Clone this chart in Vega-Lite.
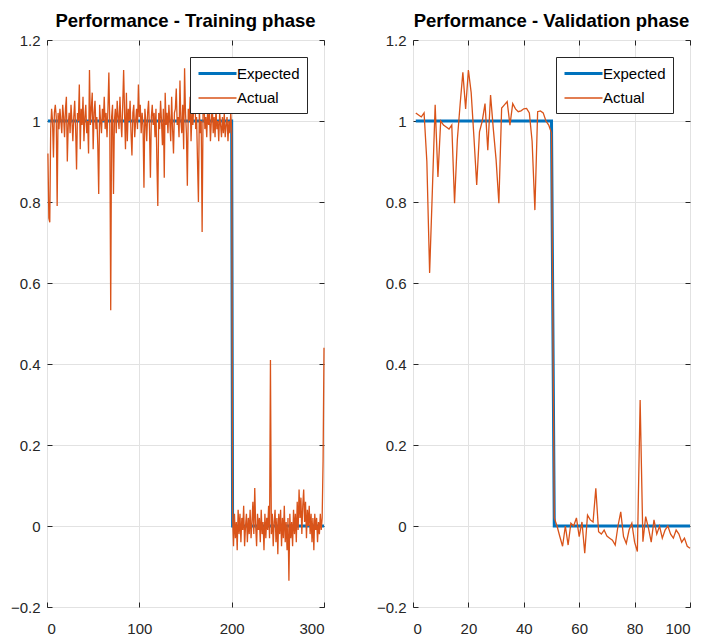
{
  "$schema": "https://vega.github.io/schema/vega-lite/v6.json",
  "background": "white",
  "padding": {"left": 9, "top": 11, "right": 0, "bottom": 0},
  "config": {
    "font": "Liberation Sans",
    "view": {"stroke": "#262626", "strokeWidth": 1},
    "axis": {"gridColor": "#e2e2e2", "gridWidth": 1, "domain": false, "tickColor": "#262626", "tickSize": -5, "labelColor": "#262626", "labelFontSize": 15, "labelFont": "Liberation Sans", "title": null},
    "axisY": {"labelPadding": 12},
    "axisX": {"labelPadding": 19},
    "legend": {"orient": "top-right", "offset": 17, "fillColor": "white", "strokeColor": "#262626", "padding": 7, "symbolSize": 256, "labelFontSize": 15, "labelColor": "#000000", "labelOffset": 21, "rowPadding": 7, "labelFont": "Liberation Sans"},
    "title": {"fontSize": 18.5, "fontWeight": "bold", "color": "#000000", "anchor": "middle", "offset": 3, "font": "Liberation Sans"}
  },
  "datasets": {
    "train": [
      {"x":1,"s":"Expected","y":1},{"x":200,"s":"Expected","y":1},{"x":201,"s":"Expected","y":0},{"x":300,"s":"Expected","y":0},
      {"x":1,"s":"Actual","y":0.92},{"x":2,"s":"Actual","y":0.76},{"x":3,"s":"Actual","y":0.75},{"x":4,"s":"Actual","y":0.98},{"x":5,"s":"Actual","y":1.03},{"x":6,"s":"Actual","y":1.0},{"x":7,"s":"Actual","y":0.91},{"x":8,"s":"Actual","y":1.02},{"x":9,"s":"Actual","y":1.04},{"x":10,"s":"Actual","y":1.01},
      {"x":11,"s":"Actual","y":0.79},{"x":12,"s":"Actual","y":1.02},{"x":13,"s":"Actual","y":0.98},{"x":14,"s":"Actual","y":1.03},{"x":15,"s":"Actual","y":1.0},{"x":16,"s":"Actual","y":0.97},{"x":17,"s":"Actual","y":1.04},{"x":18,"s":"Actual","y":1.01},{"x":19,"s":"Actual","y":0.96},{"x":20,"s":"Actual","y":1.03},
      {"x":21,"s":"Actual","y":1.06},{"x":22,"s":"Actual","y":0.9},{"x":23,"s":"Actual","y":0.99},{"x":24,"s":"Actual","y":1.02},{"x":25,"s":"Actual","y":0.97},{"x":26,"s":"Actual","y":1.04},{"x":27,"s":"Actual","y":1.0},{"x":28,"s":"Actual","y":0.95},{"x":29,"s":"Actual","y":1.01},{"x":30,"s":"Actual","y":1.05},
      {"x":31,"s":"Actual","y":0.98},{"x":32,"s":"Actual","y":0.88},{"x":33,"s":"Actual","y":1.02},{"x":34,"s":"Actual","y":1.0},{"x":35,"s":"Actual","y":1.09},{"x":36,"s":"Actual","y":0.93},{"x":37,"s":"Actual","y":1.03},{"x":38,"s":"Actual","y":0.99},{"x":39,"s":"Actual","y":1.06},{"x":40,"s":"Actual","y":0.95},
      {"x":41,"s":"Actual","y":1.01},{"x":42,"s":"Actual","y":1.04},{"x":43,"s":"Actual","y":0.97},{"x":44,"s":"Actual","y":1.0},{"x":45,"s":"Actual","y":0.92},{"x":46,"s":"Actual","y":1.126},{"x":47,"s":"Actual","y":0.99},{"x":48,"s":"Actual","y":1.03},{"x":49,"s":"Actual","y":1.07},{"x":50,"s":"Actual","y":0.93},
      {"x":51,"s":"Actual","y":1.02},{"x":52,"s":"Actual","y":1.05},{"x":53,"s":"Actual","y":0.98},{"x":54,"s":"Actual","y":1.01},{"x":55,"s":"Actual","y":0.94},{"x":56,"s":"Actual","y":0.82},{"x":57,"s":"Actual","y":1.04},{"x":58,"s":"Actual","y":1.0},{"x":59,"s":"Actual","y":0.97},{"x":60,"s":"Actual","y":1.03},
      {"x":61,"s":"Actual","y":1.0},{"x":62,"s":"Actual","y":1.06},{"x":63,"s":"Actual","y":0.98},{"x":64,"s":"Actual","y":1.02},{"x":65,"s":"Actual","y":0.96},{"x":66,"s":"Actual","y":1.03},{"x":67,"s":"Actual","y":1.12},{"x":68,"s":"Actual","y":0.99},{"x":69,"s":"Actual","y":0.533},{"x":70,"s":"Actual","y":1.01},
      {"x":71,"s":"Actual","y":1.04},{"x":72,"s":"Actual","y":0.82},{"x":73,"s":"Actual","y":1.0},{"x":74,"s":"Actual","y":1.03},{"x":75,"s":"Actual","y":0.97},{"x":76,"s":"Actual","y":1.05},{"x":77,"s":"Actual","y":1.01},{"x":78,"s":"Actual","y":0.98},{"x":79,"s":"Actual","y":1.06},{"x":80,"s":"Actual","y":1.0},
      {"x":81,"s":"Actual","y":0.96},{"x":82,"s":"Actual","y":1.04},{"x":83,"s":"Actual","y":1.126},{"x":84,"s":"Actual","y":1.02},{"x":85,"s":"Actual","y":0.93},{"x":86,"s":"Actual","y":1.07},{"x":87,"s":"Actual","y":0.95},{"x":88,"s":"Actual","y":1.03},{"x":89,"s":"Actual","y":1.0},{"x":90,"s":"Actual","y":1.05},
      {"x":91,"s":"Actual","y":0.97},{"x":92,"s":"Actual","y":0.915},{"x":93,"s":"Actual","y":1.02},{"x":94,"s":"Actual","y":1.04},{"x":95,"s":"Actual","y":0.96},{"x":96,"s":"Actual","y":1.0},{"x":97,"s":"Actual","y":1.03},{"x":98,"s":"Actual","y":0.98},{"x":99,"s":"Actual","y":1.09},{"x":100,"s":"Actual","y":1.01},
      {"x":101,"s":"Actual","y":1.04},{"x":102,"s":"Actual","y":0.97},{"x":103,"s":"Actual","y":1.02},{"x":104,"s":"Actual","y":0.99},{"x":105,"s":"Actual","y":0.835},{"x":106,"s":"Actual","y":1.03},{"x":107,"s":"Actual","y":1.0},{"x":108,"s":"Actual","y":0.95},{"x":109,"s":"Actual","y":1.02},{"x":110,"s":"Actual","y":1.05},
      {"x":111,"s":"Actual","y":0.98},{"x":112,"s":"Actual","y":0.86},{"x":113,"s":"Actual","y":1.01},{"x":114,"s":"Actual","y":1.04},{"x":115,"s":"Actual","y":0.99},{"x":116,"s":"Actual","y":1.02},{"x":117,"s":"Actual","y":0.96},{"x":118,"s":"Actual","y":1.03},{"x":119,"s":"Actual","y":0.9},{"x":120,"s":"Actual","y":0.79},
      {"x":121,"s":"Actual","y":1.02},{"x":122,"s":"Actual","y":0.98},{"x":123,"s":"Actual","y":1.05},{"x":124,"s":"Actual","y":1.0},{"x":125,"s":"Actual","y":0.94},{"x":126,"s":"Actual","y":1.03},{"x":127,"s":"Actual","y":0.86},{"x":128,"s":"Actual","y":1.07},{"x":129,"s":"Actual","y":0.99},{"x":130,"s":"Actual","y":1.02},
      {"x":131,"s":"Actual","y":0.97},{"x":132,"s":"Actual","y":1.04},{"x":133,"s":"Actual","y":1.0},{"x":134,"s":"Actual","y":0.95},{"x":135,"s":"Actual","y":1.06},{"x":136,"s":"Actual","y":0.98},{"x":137,"s":"Actual","y":0.92},{"x":138,"s":"Actual","y":1.02},{"x":139,"s":"Actual","y":1.03},{"x":140,"s":"Actual","y":1.08},
      {"x":141,"s":"Actual","y":0.99},{"x":142,"s":"Actual","y":1.01},{"x":143,"s":"Actual","y":0.96},{"x":144,"s":"Actual","y":1.1},{"x":145,"s":"Actual","y":1.0},{"x":146,"s":"Actual","y":0.97},{"x":147,"s":"Actual","y":1.04},{"x":148,"s":"Actual","y":0.93},{"x":149,"s":"Actual","y":1.13},{"x":150,"s":"Actual","y":1.02},
      {"x":151,"s":"Actual","y":0.97},{"x":152,"s":"Actual","y":0.84},{"x":153,"s":"Actual","y":1.03},{"x":154,"s":"Actual","y":1.0},{"x":155,"s":"Actual","y":1.06},{"x":156,"s":"Actual","y":0.95},{"x":157,"s":"Actual","y":1.02},{"x":158,"s":"Actual","y":0.99},{"x":159,"s":"Actual","y":1.04},{"x":160,"s":"Actual","y":1.105},
      {"x":161,"s":"Actual","y":0.98},{"x":162,"s":"Actual","y":1.01},{"x":163,"s":"Actual","y":0.9},{"x":164,"s":"Actual","y":0.8},{"x":165,"s":"Actual","y":1.03},{"x":166,"s":"Actual","y":0.97},{"x":167,"s":"Actual","y":1.0},{"x":168,"s":"Actual","y":0.726},{"x":169,"s":"Actual","y":1.02},{"x":170,"s":"Actual","y":1.05},
      {"x":171,"s":"Actual","y":0.98},{"x":172,"s":"Actual","y":1.01},{"x":173,"s":"Actual","y":0.96},{"x":174,"s":"Actual","y":1.03},{"x":175,"s":"Actual","y":0.99},{"x":176,"s":"Actual","y":1.02},{"x":177,"s":"Actual","y":0.95},{"x":178,"s":"Actual","y":1.0},{"x":179,"s":"Actual","y":1.04},{"x":180,"s":"Actual","y":0.97},
      {"x":181,"s":"Actual","y":1.01},{"x":182,"s":"Actual","y":0.96},{"x":183,"s":"Actual","y":1.03},{"x":184,"s":"Actual","y":0.98},{"x":185,"s":"Actual","y":1.0},{"x":186,"s":"Actual","y":0.95},{"x":187,"s":"Actual","y":1.02},{"x":188,"s":"Actual","y":0.99},{"x":189,"s":"Actual","y":0.96},{"x":190,"s":"Actual","y":1.01},
      {"x":191,"s":"Actual","y":0.97},{"x":192,"s":"Actual","y":1.02},{"x":193,"s":"Actual","y":0.96},{"x":194,"s":"Actual","y":0.99},{"x":195,"s":"Actual","y":1.01},{"x":196,"s":"Actual","y":0.95},{"x":197,"s":"Actual","y":1.0},{"x":198,"s":"Actual","y":0.97},{"x":199,"s":"Actual","y":1.02},{"x":200,"s":"Actual","y":0.98},
      {"x":201,"s":"Actual","y":0.02},{"x":202,"s":"Actual","y":-0.05},{"x":203,"s":"Actual","y":0.03},{"x":204,"s":"Actual","y":-0.03},{"x":205,"s":"Actual","y":0.01},{"x":206,"s":"Actual","y":-0.06},{"x":207,"s":"Actual","y":0.04},{"x":208,"s":"Actual","y":-0.02},{"x":209,"s":"Actual","y":0.03},{"x":210,"s":"Actual","y":-0.04},
      {"x":211,"s":"Actual","y":0.02},{"x":212,"s":"Actual","y":-0.01},{"x":213,"s":"Actual","y":0.05},{"x":214,"s":"Actual","y":-0.05},{"x":215,"s":"Actual","y":0.0},{"x":216,"s":"Actual","y":0.03},{"x":217,"s":"Actual","y":-0.04},{"x":218,"s":"Actual","y":0.02},{"x":219,"s":"Actual","y":-0.02},{"x":220,"s":"Actual","y":0.04},
      {"x":221,"s":"Actual","y":-0.03},{"x":222,"s":"Actual","y":0.01},{"x":223,"s":"Actual","y":0.06},{"x":224,"s":"Actual","y":-0.02},{"x":225,"s":"Actual","y":0.094},{"x":226,"s":"Actual","y":0.0},{"x":227,"s":"Actual","y":-0.05},{"x":228,"s":"Actual","y":0.03},{"x":229,"s":"Actual","y":-0.01},{"x":230,"s":"Actual","y":0.02},
      {"x":231,"s":"Actual","y":-0.04},{"x":232,"s":"Actual","y":0.04},{"x":233,"s":"Actual","y":-0.02},{"x":234,"s":"Actual","y":0.01},{"x":235,"s":"Actual","y":-0.06},{"x":236,"s":"Actual","y":0.03},{"x":237,"s":"Actual","y":-0.03},{"x":238,"s":"Actual","y":0.02},{"x":239,"s":"Actual","y":-0.01},{"x":240,"s":"Actual","y":0.05},
      {"x":241,"s":"Actual","y":-0.03},{"x":242,"s":"Actual","y":0.41},{"x":243,"s":"Actual","y":-0.02},{"x":244,"s":"Actual","y":0.03},{"x":245,"s":"Actual","y":-0.05},{"x":246,"s":"Actual","y":0.01},{"x":247,"s":"Actual","y":0.04},{"x":248,"s":"Actual","y":-0.04},{"x":249,"s":"Actual","y":0.02},{"x":250,"s":"Actual","y":-0.07},
      {"x":251,"s":"Actual","y":0.03},{"x":252,"s":"Actual","y":-0.02},{"x":253,"s":"Actual","y":0.04},{"x":254,"s":"Actual","y":-0.05},{"x":255,"s":"Actual","y":0.02},{"x":256,"s":"Actual","y":-0.03},{"x":257,"s":"Actual","y":0.05},{"x":258,"s":"Actual","y":-0.04},{"x":259,"s":"Actual","y":0.01},{"x":260,"s":"Actual","y":-0.06},
      {"x":261,"s":"Actual","y":0.02},{"x":262,"s":"Actual","y":-0.135},{"x":263,"s":"Actual","y":0.03},{"x":264,"s":"Actual","y":-0.03},{"x":265,"s":"Actual","y":0.01},{"x":266,"s":"Actual","y":-0.05},{"x":267,"s":"Actual","y":0.04},{"x":268,"s":"Actual","y":-0.02},{"x":269,"s":"Actual","y":0.03},{"x":270,"s":"Actual","y":-0.04},
      {"x":271,"s":"Actual","y":0.06},{"x":272,"s":"Actual","y":-0.01},{"x":273,"s":"Actual","y":0.09},{"x":274,"s":"Actual","y":0.02},{"x":275,"s":"Actual","y":0.07},{"x":276,"s":"Actual","y":-0.02},{"x":277,"s":"Actual","y":0.05},{"x":278,"s":"Actual","y":0.09},{"x":279,"s":"Actual","y":0.01},{"x":280,"s":"Actual","y":0.06},
      {"x":281,"s":"Actual","y":-0.03},{"x":282,"s":"Actual","y":0.04},{"x":283,"s":"Actual","y":0.0},{"x":284,"s":"Actual","y":0.05},{"x":285,"s":"Actual","y":-0.02},{"x":286,"s":"Actual","y":0.03},{"x":287,"s":"Actual","y":-0.04},{"x":288,"s":"Actual","y":0.02},{"x":289,"s":"Actual","y":-0.06},{"x":290,"s":"Actual","y":0.03},
      {"x":291,"s":"Actual","y":-0.01},{"x":292,"s":"Actual","y":0.02},{"x":293,"s":"Actual","y":-0.04},{"x":294,"s":"Actual","y":0.01},{"x":295,"s":"Actual","y":-0.02},{"x":296,"s":"Actual","y":0.03},{"x":297,"s":"Actual","y":-0.01},{"x":298,"s":"Actual","y":0.02},{"x":299,"s":"Actual","y":0.16},{"x":300,"s":"Actual","y":0.44}
    ],
    "valid": [
      {"x":1,"s":"Expected","y":1},{"x":50,"s":"Expected","y":1},{"x":51,"s":"Expected","y":0},{"x":100,"s":"Expected","y":0},
      {"x":1,"s":"Actual","y":1.02},{"x":2,"s":"Actual","y":1.015},{"x":3,"s":"Actual","y":1.01},{"x":4,"s":"Actual","y":1.02},{"x":5,"s":"Actual","y":0.9},{"x":6,"s":"Actual","y":0.625},{"x":7,"s":"Actual","y":0.83},{"x":8,"s":"Actual","y":1.04},{"x":9,"s":"Actual","y":0.862},{"x":10,"s":"Actual","y":1.0},
      {"x":11,"s":"Actual","y":0.99},{"x":12,"s":"Actual","y":0.985},{"x":13,"s":"Actual","y":0.98},{"x":14,"s":"Actual","y":0.99},{"x":15,"s":"Actual","y":0.797},{"x":16,"s":"Actual","y":0.953},{"x":17,"s":"Actual","y":1.04},{"x":18,"s":"Actual","y":1.12},{"x":19,"s":"Actual","y":1.03},{"x":20,"s":"Actual","y":1.126},
      {"x":21,"s":"Actual","y":1.07},{"x":22,"s":"Actual","y":0.96},{"x":23,"s":"Actual","y":0.842},{"x":24,"s":"Actual","y":0.973},{"x":25,"s":"Actual","y":1.0},{"x":26,"s":"Actual","y":1.043},{"x":27,"s":"Actual","y":0.928},{"x":28,"s":"Actual","y":1.064},{"x":29,"s":"Actual","y":0.98},{"x":30,"s":"Actual","y":0.904},
      {"x":31,"s":"Actual","y":0.797},{"x":32,"s":"Actual","y":1.032},{"x":33,"s":"Actual","y":1.04},{"x":34,"s":"Actual","y":1.048},{"x":35,"s":"Actual","y":0.99},{"x":36,"s":"Actual","y":1.043},{"x":37,"s":"Actual","y":1.03},{"x":38,"s":"Actual","y":1.023},{"x":39,"s":"Actual","y":1.025},{"x":40,"s":"Actual","y":1.03},
      {"x":41,"s":"Actual","y":1.031},{"x":42,"s":"Actual","y":1.02},{"x":43,"s":"Actual","y":0.95},{"x":44,"s":"Actual","y":0.78},{"x":45,"s":"Actual","y":1.023},{"x":46,"s":"Actual","y":1.025},{"x":47,"s":"Actual","y":1.02},{"x":48,"s":"Actual","y":1.0},{"x":49,"s":"Actual","y":0.99},{"x":50,"s":"Actual","y":0.97},
      {"x":51,"s":"Actual","y":0.02},{"x":52,"s":"Actual","y":0.0},{"x":53,"s":"Actual","y":-0.026},{"x":54,"s":"Actual","y":-0.05},{"x":55,"s":"Actual","y":0.0},{"x":56,"s":"Actual","y":-0.047},{"x":57,"s":"Actual","y":0.007},{"x":58,"s":"Actual","y":0.0},{"x":59,"s":"Actual","y":0.02},{"x":60,"s":"Actual","y":-0.026},
      {"x":61,"s":"Actual","y":0.01},{"x":62,"s":"Actual","y":-0.067},{"x":63,"s":"Actual","y":0.027},{"x":64,"s":"Actual","y":0.015},{"x":65,"s":"Actual","y":0.01},{"x":66,"s":"Actual","y":0.093},{"x":67,"s":"Actual","y":-0.014},{"x":68,"s":"Actual","y":-0.02},{"x":69,"s":"Actual","y":-0.01},{"x":70,"s":"Actual","y":-0.025},
      {"x":71,"s":"Actual","y":-0.03},{"x":72,"s":"Actual","y":-0.035},{"x":73,"s":"Actual","y":-0.047},{"x":74,"s":"Actual","y":0.0},{"x":75,"s":"Actual","y":0.035},{"x":76,"s":"Actual","y":-0.026},{"x":77,"s":"Actual","y":-0.043},{"x":78,"s":"Actual","y":-0.01},{"x":79,"s":"Actual","y":0.007},{"x":80,"s":"Actual","y":-0.04},
      {"x":81,"s":"Actual","y":-0.063},{"x":82,"s":"Actual","y":0.311},{"x":83,"s":"Actual","y":-0.039},{"x":84,"s":"Actual","y":0.023},{"x":85,"s":"Actual","y":-0.005},{"x":86,"s":"Actual","y":-0.04},{"x":87,"s":"Actual","y":0.015},{"x":88,"s":"Actual","y":-0.02},{"x":89,"s":"Actual","y":0.0},{"x":90,"s":"Actual","y":-0.03},
      {"x":91,"s":"Actual","y":-0.01},{"x":92,"s":"Actual","y":0.0},{"x":93,"s":"Actual","y":-0.02},{"x":94,"s":"Actual","y":-0.03},{"x":95,"s":"Actual","y":-0.01},{"x":96,"s":"Actual","y":-0.02},{"x":97,"s":"Actual","y":-0.04},{"x":98,"s":"Actual","y":-0.03},{"x":99,"s":"Actual","y":-0.05},{"x":100,"s":"Actual","y":-0.055}
    ]
  },
  "bounds": "flush",
  "spacing": 89,
  "resolve": {"scale": {"color": "independent", "strokeWidth": "independent"}, "legend": {"color": "independent", "strokeWidth": "independent"}},
  "hconcat": [
    {
      "width": 277, "height": 567,
      "title": "Performance - Training phase",
      "data": {"name": "train"},
      "resolve": {"axis": {"x": "independent", "y": "independent"}},
      "layer": [
        {
          "transform": [{"filter": "datum.s == 'Expected'"}],
          "mark": {"type": "line"},
          "encoding": {
            "x": {"field": "x", "type": "quantitative", "scale": {"domain": [0, 300], "nice": false, "zero": false}, "axis": {"orient": "bottom", "values": [0, 100, 200, 300], "grid": true}},
            "y": {"field": "y", "type": "quantitative", "scale": {"domain": [-0.2, 1.2], "nice": false, "zero": false}, "axis": {"orient": "left", "values": [-0.2, 0, 0.2, 0.4, 0.6, 0.8, 1, 1.2], "format": ".1~f", "grid": true}},
            "color": {"field": "s", "type": "nominal", "scale": {"domain": ["Expected", "Actual"], "range": ["#0072BD", "#D95319"]}, "legend": {"title": null, "symbolType": "M-1,0H3.75"}},
            "strokeWidth": {"field": "s", "type": "nominal", "scale": {"domain": ["Expected", "Actual"], "range": [3, 1.3]}, "legend": {"title": null, "symbolType": "M-1,0H3.75"}}
          }
        },
        {
          "transform": [{"filter": "datum.s == 'Actual'"}],
          "mark": {"type": "line"},
          "encoding": {
            "x": {"field": "x", "type": "quantitative", "scale": {"domain": [0, 300], "nice": false, "zero": false}, "axis": {"orient": "top", "values": [0, 100, 200, 300], "grid": false, "labels": false}},
            "y": {"field": "y", "type": "quantitative", "scale": {"domain": [-0.2, 1.2], "nice": false, "zero": false}, "axis": {"orient": "right", "values": [-0.2, 0, 0.2, 0.4, 0.6, 0.8, 1, 1.2], "grid": false, "labels": false}},
            "color": {"field": "s", "type": "nominal", "scale": {"domain": ["Expected", "Actual"], "range": ["#0072BD", "#D95319"]}, "legend": {"title": null, "symbolType": "M-1,0H3.75"}},
            "strokeWidth": {"field": "s", "type": "nominal", "scale": {"domain": ["Expected", "Actual"], "range": [3, 1.3]}, "legend": {"title": null, "symbolType": "M-1,0H3.75"}}
          }
        }
      ]
    },
    {
      "width": 277, "height": 567,
      "title": "Performance - Validation phase",
      "data": {"name": "valid"},
      "resolve": {"axis": {"x": "independent", "y": "independent"}},
      "layer": [
        {
          "transform": [{"filter": "datum.s == 'Expected'"}],
          "mark": {"type": "line"},
          "encoding": {
            "x": {"field": "x", "type": "quantitative", "scale": {"domain": [0, 100], "nice": false, "zero": false}, "axis": {"orient": "bottom", "values": [0, 20, 40, 60, 80, 100], "grid": true}},
            "y": {"field": "y", "type": "quantitative", "scale": {"domain": [-0.2, 1.2], "nice": false, "zero": false}, "axis": {"orient": "left", "values": [-0.2, 0, 0.2, 0.4, 0.6, 0.8, 1, 1.2], "format": ".1~f", "grid": true}},
            "color": {"field": "s", "type": "nominal", "scale": {"domain": ["Expected", "Actual"], "range": ["#0072BD", "#D95319"]}, "legend": {"title": null, "symbolType": "M-1,0H3.75"}},
            "strokeWidth": {"field": "s", "type": "nominal", "scale": {"domain": ["Expected", "Actual"], "range": [3, 1.3]}, "legend": {"title": null, "symbolType": "M-1,0H3.75"}}
          }
        },
        {
          "transform": [{"filter": "datum.s == 'Actual'"}],
          "mark": {"type": "line"},
          "encoding": {
            "x": {"field": "x", "type": "quantitative", "scale": {"domain": [0, 100], "nice": false, "zero": false}, "axis": {"orient": "top", "values": [0, 20, 40, 60, 80, 100], "grid": false, "labels": false}},
            "y": {"field": "y", "type": "quantitative", "scale": {"domain": [-0.2, 1.2], "nice": false, "zero": false}, "axis": {"orient": "right", "values": [-0.2, 0, 0.2, 0.4, 0.6, 0.8, 1, 1.2], "grid": false, "labels": false}},
            "color": {"field": "s", "type": "nominal", "scale": {"domain": ["Expected", "Actual"], "range": ["#0072BD", "#D95319"]}, "legend": {"title": null, "symbolType": "M-1,0H3.75"}},
            "strokeWidth": {"field": "s", "type": "nominal", "scale": {"domain": ["Expected", "Actual"], "range": [3, 1.3]}, "legend": {"title": null, "symbolType": "M-1,0H3.75"}}
          }
        }
      ]
    }
  ]
}
